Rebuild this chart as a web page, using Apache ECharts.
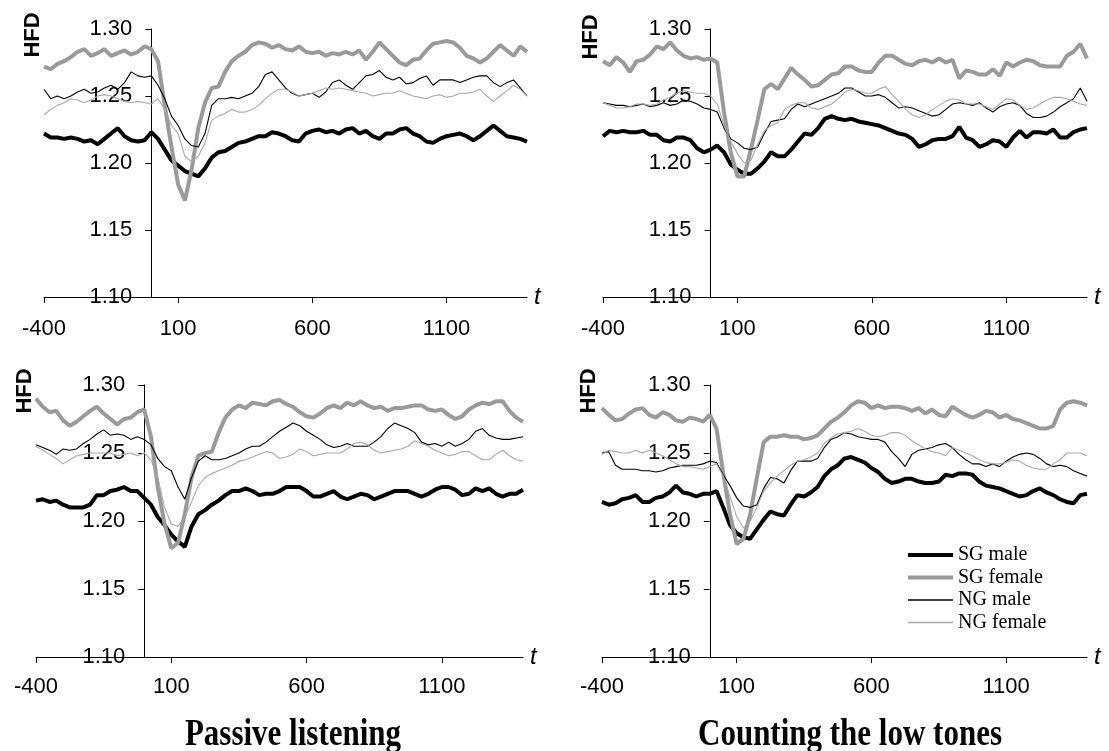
<!DOCTYPE html>
<html>
<head>
<meta charset="utf-8">
<script src="https://cdn.jsdelivr.net/npm/echarts@6/dist/echarts.min.js"></script>
<style>
html,body{margin:0;padding:0;background:#fff;}
#chart{width:1109px;height:751px;}
</style>
</head>
<body>
<div id="chart"></div>
<script>
// time axis (ms)
const T = [-400,-375,-350,-325,-300,-275,-250,-225,-200,-175,-150,-125,-100,-75,-50,-25,0,25,50,75,100,125,150,175,200,225,250,275,300,325,350,375,400,425,450,475,500,525,550,575,600,625,650,675,700,725,750,775,800,825,850,875,900,925,950,975,1000,1025,1050,1075,1100,1125,1150,1175,1200,1225,1250,1275,1300,1325,1350,1375,1400];
const X_TICKS = [-400, 100, 600, 1100];
const Y_TICKS = [1.10, 1.15, 1.20, 1.25, 1.30];
const SERIES_NAMES = ['SG male', 'SG female', 'NG male', 'NG female'];
const PANEL_TITLES = ['Passive listening', 'Counting the low tones'];

// Top-left panel (passive listening)
const tlSgMale = [1.222,1.219,1.219,1.218,1.219,1.218,1.216,1.217,1.214,1.218,1.222,1.226,1.220,1.217,1.216,1.217,1.223,1.218,1.210,1.202,1.198,1.194,1.192,1.190,1.196,1.204,1.208,1.209,1.212,1.215,1.216,1.218,1.220,1.220,1.223,1.222,1.220,1.217,1.216,1.222,1.224,1.225,1.223,1.224,1.222,1.225,1.226,1.222,1.224,1.220,1.218,1.222,1.222,1.225,1.226,1.222,1.220,1.216,1.215,1.218,1.220,1.221,1.222,1.220,1.217,1.220,1.224,1.228,1.224,1.220,1.219,1.218,1.216];
const tlSgFemale = [1.272,1.270,1.274,1.276,1.279,1.283,1.285,1.280,1.282,1.285,1.280,1.282,1.284,1.281,1.283,1.287,1.285,1.276,1.243,1.212,1.184,1.172,1.195,1.226,1.245,1.256,1.257,1.268,1.276,1.280,1.283,1.288,1.290,1.289,1.286,1.288,1.285,1.284,1.287,1.283,1.282,1.283,1.280,1.282,1.281,1.283,1.281,1.284,1.277,1.283,1.290,1.285,1.280,1.275,1.273,1.277,1.278,1.284,1.289,1.290,1.291,1.290,1.286,1.280,1.278,1.275,1.278,1.283,1.288,1.284,1.280,1.287,1.283];
const tlNgMale = [1.255,1.248,1.250,1.248,1.250,1.253,1.255,1.252,1.253,1.256,1.258,1.255,1.260,1.268,1.265,1.264,1.265,1.258,1.248,1.235,1.228,1.218,1.213,1.212,1.222,1.243,1.248,1.248,1.249,1.248,1.250,1.252,1.257,1.266,1.268,1.262,1.256,1.252,1.250,1.251,1.252,1.249,1.253,1.260,1.262,1.258,1.255,1.260,1.265,1.266,1.269,1.264,1.262,1.264,1.259,1.260,1.263,1.265,1.258,1.262,1.262,1.262,1.260,1.262,1.264,1.265,1.265,1.260,1.257,1.260,1.262,1.256,1.250];
const tlNgFemale = [1.236,1.240,1.243,1.245,1.248,1.247,1.245,1.247,1.250,1.251,1.250,1.248,1.246,1.245,1.246,1.245,1.244,1.248,1.240,1.228,1.222,1.205,1.201,1.205,1.215,1.232,1.235,1.237,1.240,1.238,1.238,1.240,1.243,1.248,1.252,1.255,1.255,1.253,1.250,1.251,1.252,1.254,1.256,1.255,1.256,1.255,1.254,1.253,1.252,1.250,1.251,1.252,1.252,1.254,1.252,1.250,1.249,1.248,1.250,1.251,1.249,1.250,1.252,1.252,1.253,1.255,1.250,1.246,1.250,1.254,1.258,1.255,1.250];

// Top-right panel (counting the low tones)
const trSgMale = [1.220,1.224,1.223,1.224,1.223,1.223,1.224,1.221,1.221,1.217,1.216,1.219,1.219,1.217,1.211,1.208,1.210,1.213,1.208,1.199,1.195,1.192,1.192,1.196,1.201,1.208,1.205,1.205,1.210,1.216,1.222,1.221,1.226,1.233,1.235,1.233,1.232,1.233,1.231,1.230,1.229,1.228,1.226,1.224,1.222,1.221,1.218,1.212,1.214,1.217,1.218,1.218,1.220,1.227,1.219,1.217,1.212,1.214,1.217,1.216,1.212,1.219,1.224,1.219,1.223,1.223,1.222,1.225,1.219,1.219,1.223,1.225,1.226];
const trSgFemale = [1.276,1.273,1.279,1.275,1.268,1.276,1.277,1.281,1.287,1.285,1.290,1.284,1.280,1.278,1.279,1.277,1.278,1.275,1.238,1.208,1.190,1.190,1.210,1.232,1.255,1.259,1.255,1.263,1.271,1.266,1.262,1.257,1.258,1.262,1.266,1.267,1.272,1.272,1.269,1.268,1.268,1.275,1.280,1.280,1.277,1.274,1.273,1.276,1.277,1.275,1.278,1.275,1.277,1.263,1.269,1.268,1.266,1.266,1.270,1.265,1.275,1.272,1.275,1.277,1.276,1.273,1.272,1.272,1.272,1.280,1.283,1.289,1.278];
const trNgMale = [1.245,1.244,1.243,1.243,1.242,1.243,1.244,1.242,1.243,1.245,1.243,1.244,1.247,1.246,1.244,1.241,1.240,1.238,1.226,1.218,1.215,1.211,1.210,1.212,1.222,1.231,1.232,1.233,1.240,1.244,1.242,1.244,1.246,1.248,1.250,1.252,1.256,1.256,1.253,1.250,1.250,1.251,1.249,1.245,1.241,1.242,1.241,1.239,1.237,1.235,1.236,1.240,1.244,1.245,1.244,1.243,1.245,1.241,1.238,1.242,1.244,1.245,1.243,1.237,1.234,1.234,1.235,1.238,1.242,1.245,1.248,1.256,1.246];
const trNgFemale = [1.245,1.243,1.241,1.241,1.242,1.244,1.244,1.243,1.244,1.247,1.249,1.252,1.254,1.253,1.252,1.252,1.250,1.244,1.228,1.216,1.207,1.200,1.202,1.214,1.224,1.228,1.230,1.240,1.243,1.245,1.245,1.241,1.240,1.242,1.244,1.248,1.253,1.255,1.254,1.252,1.252,1.255,1.257,1.251,1.246,1.240,1.236,1.234,1.236,1.240,1.243,1.246,1.248,1.247,1.244,1.244,1.244,1.242,1.240,1.244,1.248,1.247,1.243,1.240,1.241,1.244,1.247,1.249,1.249,1.248,1.246,1.244,1.243];

// Bottom-left panel (passive listening)
const blSgMale = [1.215,1.216,1.214,1.215,1.212,1.210,1.210,1.210,1.212,1.219,1.219,1.222,1.223,1.225,1.222,1.222,1.217,1.212,1.203,1.197,1.190,1.185,1.181,1.196,1.205,1.208,1.212,1.215,1.219,1.222,1.222,1.224,1.222,1.219,1.220,1.220,1.222,1.225,1.225,1.225,1.222,1.218,1.218,1.220,1.222,1.218,1.216,1.218,1.220,1.219,1.216,1.218,1.220,1.222,1.222,1.222,1.220,1.218,1.220,1.223,1.225,1.225,1.223,1.219,1.220,1.224,1.222,1.224,1.220,1.218,1.220,1.220,1.223];
const blSgFemale = [1.290,1.284,1.280,1.281,1.274,1.270,1.273,1.277,1.281,1.284,1.279,1.275,1.271,1.275,1.276,1.280,1.282,1.262,1.225,1.198,1.180,1.184,1.205,1.232,1.248,1.250,1.251,1.265,1.276,1.282,1.285,1.283,1.287,1.286,1.285,1.288,1.289,1.286,1.284,1.280,1.277,1.276,1.279,1.283,1.285,1.283,1.287,1.285,1.288,1.285,1.283,1.284,1.281,1.283,1.283,1.284,1.285,1.285,1.282,1.281,1.282,1.278,1.275,1.277,1.282,1.285,1.287,1.286,1.288,1.288,1.281,1.276,1.273];
const blNgMale = [1.256,1.254,1.252,1.249,1.253,1.252,1.253,1.257,1.260,1.264,1.267,1.263,1.264,1.263,1.260,1.262,1.260,1.256,1.246,1.240,1.237,1.225,1.216,1.232,1.244,1.248,1.245,1.245,1.246,1.248,1.250,1.253,1.255,1.255,1.258,1.262,1.266,1.269,1.272,1.270,1.266,1.263,1.260,1.256,1.254,1.255,1.257,1.255,1.255,1.255,1.258,1.262,1.268,1.272,1.270,1.268,1.265,1.258,1.256,1.257,1.255,1.258,1.255,1.257,1.260,1.266,1.268,1.263,1.261,1.260,1.260,1.261,1.262];
const blNgFemale = [1.255,1.252,1.249,1.246,1.242,1.245,1.248,1.249,1.250,1.250,1.250,1.250,1.248,1.249,1.250,1.248,1.250,1.245,1.232,1.210,1.198,1.196,1.203,1.214,1.226,1.232,1.235,1.237,1.239,1.241,1.244,1.245,1.247,1.249,1.251,1.250,1.246,1.247,1.249,1.253,1.251,1.248,1.249,1.250,1.250,1.250,1.253,1.257,1.258,1.256,1.252,1.250,1.251,1.252,1.253,1.255,1.259,1.257,1.255,1.252,1.250,1.248,1.249,1.251,1.251,1.248,1.245,1.245,1.249,1.252,1.248,1.245,1.244];

// Bottom-right panel (counting the low tones)
const brSgMale = [1.214,1.212,1.213,1.216,1.217,1.219,1.214,1.214,1.217,1.218,1.221,1.226,1.221,1.220,1.218,1.220,1.220,1.222,1.210,1.197,1.191,1.188,1.187,1.194,1.201,1.207,1.205,1.204,1.212,1.219,1.218,1.221,1.225,1.233,1.238,1.241,1.246,1.247,1.245,1.243,1.239,1.236,1.231,1.228,1.229,1.231,1.231,1.229,1.228,1.228,1.229,1.234,1.233,1.235,1.235,1.234,1.229,1.226,1.225,1.224,1.222,1.220,1.218,1.219,1.222,1.224,1.221,1.219,1.216,1.214,1.213,1.219,1.220];
const brSgFemale = [1.283,1.278,1.274,1.275,1.279,1.282,1.283,1.278,1.276,1.280,1.278,1.274,1.273,1.276,1.275,1.273,1.278,1.268,1.235,1.205,1.183,1.187,1.205,1.232,1.258,1.262,1.262,1.263,1.262,1.262,1.260,1.261,1.263,1.268,1.273,1.276,1.280,1.285,1.288,1.287,1.283,1.285,1.283,1.284,1.284,1.283,1.281,1.283,1.279,1.282,1.278,1.277,1.284,1.281,1.278,1.276,1.278,1.281,1.280,1.276,1.278,1.275,1.274,1.272,1.270,1.268,1.268,1.270,1.282,1.287,1.288,1.287,1.285];
const brNgMale = [1.250,1.251,1.241,1.238,1.238,1.238,1.237,1.237,1.236,1.237,1.239,1.240,1.241,1.241,1.241,1.242,1.244,1.243,1.234,1.226,1.217,1.211,1.210,1.212,1.224,1.232,1.231,1.228,1.237,1.244,1.244,1.244,1.246,1.254,1.260,1.262,1.265,1.264,1.262,1.261,1.260,1.260,1.258,1.251,1.246,1.240,1.249,1.252,1.253,1.254,1.256,1.257,1.254,1.249,1.245,1.242,1.242,1.240,1.242,1.240,1.244,1.247,1.249,1.250,1.249,1.246,1.242,1.240,1.241,1.240,1.237,1.235,1.233];
const brNgFemale = [1.249,1.252,1.251,1.250,1.250,1.252,1.250,1.252,1.250,1.248,1.245,1.242,1.240,1.240,1.239,1.238,1.240,1.242,1.233,1.218,1.203,1.195,1.200,1.210,1.222,1.228,1.233,1.237,1.241,1.244,1.245,1.247,1.250,1.257,1.261,1.264,1.265,1.266,1.268,1.266,1.263,1.262,1.263,1.265,1.265,1.263,1.259,1.256,1.253,1.251,1.250,1.248,1.254,1.252,1.250,1.248,1.245,1.243,1.242,1.242,1.243,1.245,1.244,1.241,1.239,1.238,1.238,1.242,1.245,1.250,1.250,1.250,1.248];

const PANELS = [
  [tlSgMale, tlSgFemale, tlNgMale, tlNgFemale],
  [trSgMale, trSgFemale, trNgMale, trNgFemale],
  [blSgMale, blSgFemale, blNgMale, blNgFemale],
  [brSgMale, brSgFemale, brNgMale, brNgFemale]
];

// layout & style (kept separate from data)
const X_MIN = -400, X_MAX = 1400;
const GRIDS = [
  {left: 44, top: 29, width: 483, height: 268},
  {left: 603, top: 29, width: 484, height: 268},
  {left: 36, top: 385, width: 487, height: 272},
  {left: 602, top: 385, width: 485, height: 272}
];
const LINE_STYLES = [
  {color: '#000000', width: 4},
  {color: '#9a9a9a', width: 4},
  {color: '#000000', width: 1.1},
  {color: '#a8a8a8', width: 1.1}
];
const LEGEND_ICONS = [
  'path://M0,0 H45 V4 H0 Z',
  'path://M0,0 H45 V4 H0 Z',
  'path://M0,0 H45 V1.3 H0 Z',
  'path://M0,0 H45 V1.3 H0 Z'
];
const SANS = '"Liberation Sans", Arial, sans-serif';
const SERIF = '"Liberation Serif", "Times New Roman", serif';

const chart = echarts.init(document.getElementById('chart'), null, {renderer: 'canvas'});

const xAxes = [], yAxes = [], series = [];
GRIDS.forEach((g, i) => {
  // place the y axis at t = 0 (shift it right from the grid's left edge)
  const zeroOffset = (0 - X_MIN) / (X_MAX - X_MIN) * g.width;
  xAxes.push({
    gridIndex: i, type: 'value', min: X_MIN, max: X_MAX, interval: 500,
    axisLine: {show: true, onZero: false, lineStyle: {color: '#000', width: 1}},
    axisTick: {show: true, length: 6, customValues: X_TICKS, lineStyle: {color: '#000', width: 1}},
    axisLabel: {customValues: X_TICKS, margin: i < 2 ? 21 : 19, fontSize: 22, fontFamily: SANS, color: '#000',
      formatter: v => String(v)},
    splitLine: {show: false},
    name: 't', nameLocation: 'end', nameGap: 7,
    nameTextStyle: {fontStyle: 'italic', fontSize: 24, fontFamily: SANS, color: '#000', verticalAlign: 'middle'}
  });
  yAxes.push({
    gridIndex: i, type: 'value', min: 1.10, max: 1.30, interval: 0.05,
    position: 'left', offset: -zeroOffset,
    axisLine: {show: true, onZero: false, lineStyle: {color: '#000', width: 1}},
    axisTick: {show: true, length: 6, customValues: Y_TICKS, lineStyle: {color: '#000', width: 1}},
    axisLabel: {customValues: Y_TICKS, margin: 19, fontSize: 22, fontFamily: SANS, color: '#000',
      formatter: v => Number(v).toFixed(2)},
    splitLine: {show: false}
  });
  PANELS[i].forEach((vals, k) => {
    series.push({
      name: SERIES_NAMES[k], type: 'line', xAxisIndex: i, yAxisIndex: i,
      data: T.map((t, j) => [t, vals[j]]),
      showSymbol: false, symbol: 'none', smooth: false,
      lineStyle: {color: LINE_STYLES[k].color, width: LINE_STYLES[k].width},
      itemStyle: {color: LINE_STYLES[k].color},
      emphasis: {disabled: true},
      z: 2 + k
    });
  });
});

const hfd = (x, y) => ({
  type: 'text', x: x, y: y, rotation: Math.PI / 2,
  style: {text: 'HFD', fontSize: 22, fontWeight: 'bold', fontFamily: SANS, fill: '#000', align: 'center', verticalAlign: 'middle'}
});
const panelTitle = (x, y, txt) => ({
  type: 'text', x: x, y: y, scaleY: 1.2,
  style: {text: txt, fontSize: 31, fontWeight: 'bold', fontFamily: SERIF, fill: '#000', align: 'center', verticalAlign: 'middle'}
});

chart.setOption({
  animation: false,
  backgroundColor: '#ffffff',
  grid: GRIDS.map(g => Object.assign({containLabel: false, outerBoundsMode: 'none'}, g)),
  xAxis: xAxes,
  yAxis: yAxes,
  legend: {
    left: 908, top: 545, orient: 'vertical',
    itemWidth: 45, itemHeight: 14, itemGap: 2.5, padding: 0,
    selectedMode: false, symbolKeepAspect: true,
    textStyle: {fontFamily: SERIF, fontSize: 20, color: '#000'},
    data: SERIES_NAMES.map((n, k) => ({name: n, icon: LEGEND_ICONS[k],
      itemStyle: {color: LINE_STYLES[k].color}}))
  },
  graphic: [
    hfd(33, 35), hfd(591, 37), hfd(25, 391), hfd(589, 391),
    panelTitle(293, 735, PANEL_TITLES[0]),
    panelTitle(850, 735, PANEL_TITLES[1])
  ],
  series: series
});
</script>
</body>
</html>
